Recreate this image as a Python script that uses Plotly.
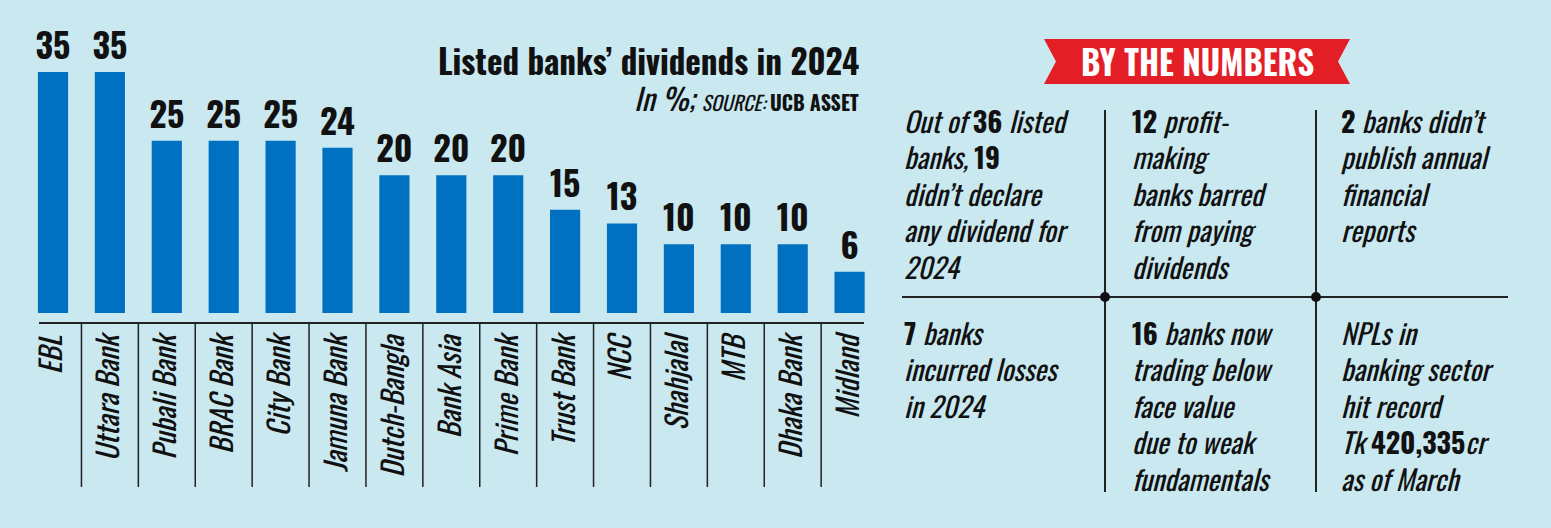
import plotly.graph_objects as go

W, H = 1551, 528

banks = ["EBL", "Uttara Bank", "Pubali Bank", "BRAC Bank", "City Bank", "Jamuna Bank",
         "Dutch-Bangla", "Bank Asia", "Prime Bank", "Trust Bank", "NCC", "Shahjalal",
         "MTB", "Dhaka Bank", "Midland"]
dividends = [35, 35, 25, 25, 25, 24, 20, 20, 20, 15, 13, 10, 10, 10, 6]

title = "Listed banks’ dividends in 2024"
subtitle = "<i>In %; </i><span style='font-size:20px'><i>SOURCE: </i><b>UCB ASSET</b></span>"
banner = "BY THE NUMBERS"

facts_top = [
    "<i>Out of </i><b>36</b><i> listed</i><br><i>banks, </i><b>19</b><br><i>didn’t declare</i><br><i>any dividend for</i><br><i>2024</i>",
    "<b>12</b><i> profit-</i><br><i>making</i><br><i>banks barred</i><br><i>from paying</i><br><i>dividends</i>",
    "<b>2</b><i> banks didn’t</i><br><i>publish annual</i><br><i>financial</i><br><i>reports</i>",
]
facts_bottom = [
    "<b>7</b><i> banks</i><br><i>incurred losses</i><br><i>in 2024</i>",
    "<b>16</b><i> banks now</i><br><i>trading below</i><br><i>face value</i><br><i>due to weak</i><br><i>fundamentals</i>",
    "<i>NPLs in</i><br><i>banking sector</i><br><i>hit record</i><br><i>Tk </i><b>420,335</b><i>cr</i><br><i>as of March</i>",
]

BG = "#c9e8f0"
BAR = "#0070c0"
RED = "#e41e26"
FONT = "Oswald, 'Liberation Sans Narrow', 'DejaVu Sans Condensed', 'Roboto Condensed', sans-serif"


def px(x):
    return x / W


def py(y):
    return 1 - y / H


fig = go.Figure()
fig.add_trace(go.Bar(
    x=banks, y=dividends, marker_color=BAR, marker_line_width=0,
    text=[str(v) for v in dividends], textposition="outside", constraintext="none",
    textfont=dict(family=FONT, size=34, color="#111111", weight="bold"),
    cliponaxis=False, hoverinfo="skip",
))

spacing = 56.9
left = 53 - 0.5 * spacing
right = left + 15 * spacing
base_y = 313
ppu = 6.886
top_y = base_y - 40 * ppu

fig.update_layout(
    width=W, height=H, margin=dict(l=0, r=0, t=0, b=0),
    paper_bgcolor=BG, plot_bgcolor=BG, showlegend=False, bargap=0.47,
    font=dict(family=FONT, color="#111111"),
    xaxis=dict(domain=[px(left), px(right)], range=[-0.5, 14.5], showgrid=False,
               zeroline=False, showline=False, ticks="", tickangle=-90,
               tickfont=dict(family=FONT, size=29, style="italic", color="#111111"),
               ticklabelstandoff=16, fixedrange=True),
    yaxis=dict(domain=[py(base_y), py(top_y)], range=[0, 40], visible=False, fixedrange=True),
)

shapes = []
# axis line
shapes.append(dict(type="line", xref="paper", yref="paper", x0=px(39), x1=px(864),
                   y0=py(323), y1=py(323), line=dict(color="#222222", width=2)))
# dividers between categories
for i in range(len(banks) - 1):
    shapes.append(dict(type="line", xref="x", yref="paper", x0=i + 0.5, x1=i + 0.5,
                       y0=py(323), y1=py(487), line=dict(color="#222222", width=1.5)))

# right panel grid
shapes.append(dict(type="line", xref="paper", yref="paper", x0=px(902), x1=px(1508),
                   y0=py(297), y1=py(297), line=dict(color="#222222", width=2)))
for vx in (1105, 1316):
    shapes.append(dict(type="line", xref="paper", yref="paper", x0=px(vx), x1=px(vx),
                       y0=py(110), y1=py(492), line=dict(color="#222222", width=2)))
    shapes.append(dict(type="circle", xref="paper", yref="paper",
                       x0=px(vx - 5), x1=px(vx + 5), y0=py(302), y1=py(292),
                       fillcolor="#111111", line=dict(width=0)))

# banner ribbon
pts = [(1044, 39), (1350, 39), (1338, 61.5), (1350, 84), (1044, 84), (1056, 61.5)]
path = "M " + " L ".join(f"{px(x)} {py(y)}" for x, y in pts) + " Z"
shapes.append(dict(type="path", xref="paper", yref="paper", path=path,
                   fillcolor=RED, line=dict(width=0)))
fig.update_layout(shapes=shapes)

ann = []
ann.append(dict(text=f"<b>{title}</b>", x=px(861), y=py(34), xref="paper", yref="paper",
                xanchor="right", yanchor="top", showarrow=False,
                font=dict(family=FONT, size=33, color="#111111")))
ann.append(dict(text=subtitle, x=px(861), y=py(73), xref="paper", yref="paper",
                xanchor="right", yanchor="top", showarrow=False,
                font=dict(family=FONT, size=30, color="#111111")))
ann.append(dict(text=f"<b>{banner}</b>", x=px(1197), y=py(61.5), xref="paper", yref="paper",
                xanchor="center", yanchor="middle", showarrow=False,
                font=dict(family=FONT, size=33, color="white")))

col_x = [902, 1130, 1339]
for i, t in enumerate(facts_top):
    ann.append(dict(text=t, x=px(col_x[i]), y=py(98), xref="paper", yref="paper",
                    xanchor="left", yanchor="top", align="left", showarrow=False,
                    font=dict(family=FONT, size=28, color="#111111")))
for i, t in enumerate(facts_bottom):
    ann.append(dict(text=t, x=px(col_x[i]), y=py(310), xref="paper", yref="paper",
                    xanchor="left", yanchor="top", align="left", showarrow=False,
                    font=dict(family=FONT, size=28, color="#111111")))
fig.update_layout(annotations=ann)

fig.write_html("out.html", config={"displayModeBar": False},
               post_script="document.body.style.margin='0px';")
